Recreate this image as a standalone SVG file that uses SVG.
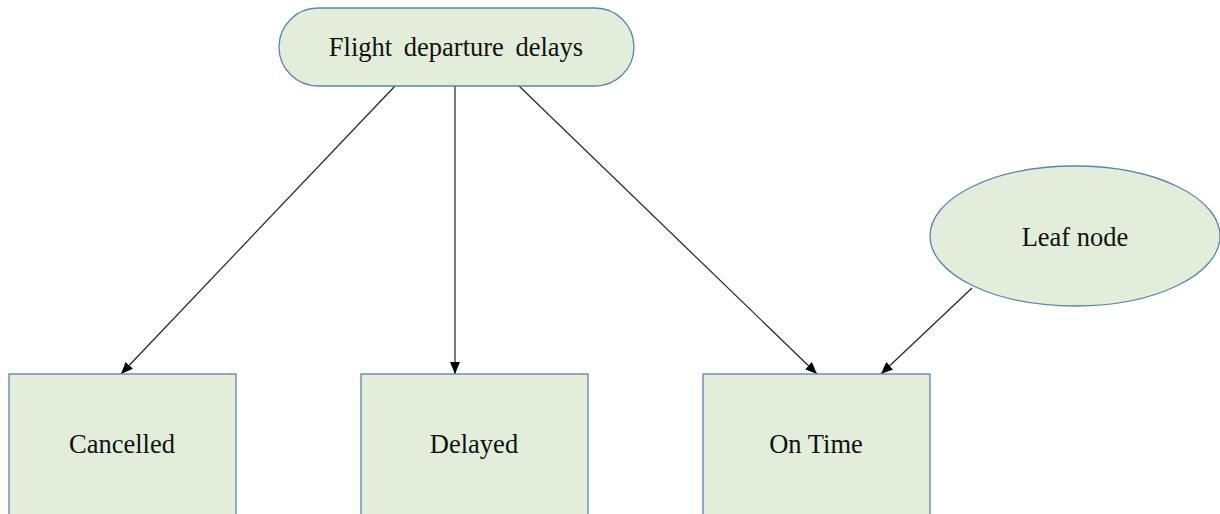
<svg xmlns="http://www.w3.org/2000/svg" width="1220" height="514" viewBox="0 0 1220 514">
  <defs>
    <marker id="arrow" viewBox="0 0 12 10" refX="12" refY="5" markerWidth="12" markerHeight="10" markerUnits="userSpaceOnUse" orient="auto">
      <path d="M0,0 L12,5 L0,10 Z" fill="#000"/>
    </marker>
    <style>
      .shape { fill: #e2eed9; stroke: #5a84b4; stroke-width: 1.3; }
      .label { font-family: "Liberation Serif", serif; font-size: 26.5px; fill: #111; text-anchor: middle; }
      .edge { stroke: #222; stroke-width: 1.2; fill: none; marker-end: url(#arrow); }
    </style>
  </defs>
  <rect width="1220" height="514" fill="#fff"/>

  <g id="connectors">
    <line class="edge" x1="395" y1="86" x2="121" y2="374"/>
    <line class="edge" x1="455" y1="86" x2="455" y2="374"/>
    <line class="edge" x1="519" y1="86" x2="817" y2="374"/>
    <line class="edge" x1="972" y1="288" x2="881" y2="374"/>
  </g>

  <g id="root">
    <rect class="shape" x="279" y="8" width="355" height="78" rx="39" ry="39"/>
    <text class="label" x="456" y="56" word-spacing="5">Flight departure delays</text>
  </g>

  <g id="leaf">
    <ellipse class="shape" cx="1075" cy="236" rx="145" ry="70"/>
    <text class="label" x="1075" y="246">Leaf node</text>
  </g>

  <g id="cancelled">
    <rect class="shape" x="9" y="374" width="227" height="150"/>
    <text class="label" x="122" y="453">Cancelled</text>
  </g>

  <g id="delayed">
    <rect class="shape" x="361" y="374" width="227" height="150"/>
    <text class="label" x="474" y="453">Delayed</text>
  </g>

  <g id="ontime">
    <rect class="shape" x="703" y="374" width="227" height="150"/>
    <text class="label" x="816" y="453">On Time</text>
  </g>
</svg>
